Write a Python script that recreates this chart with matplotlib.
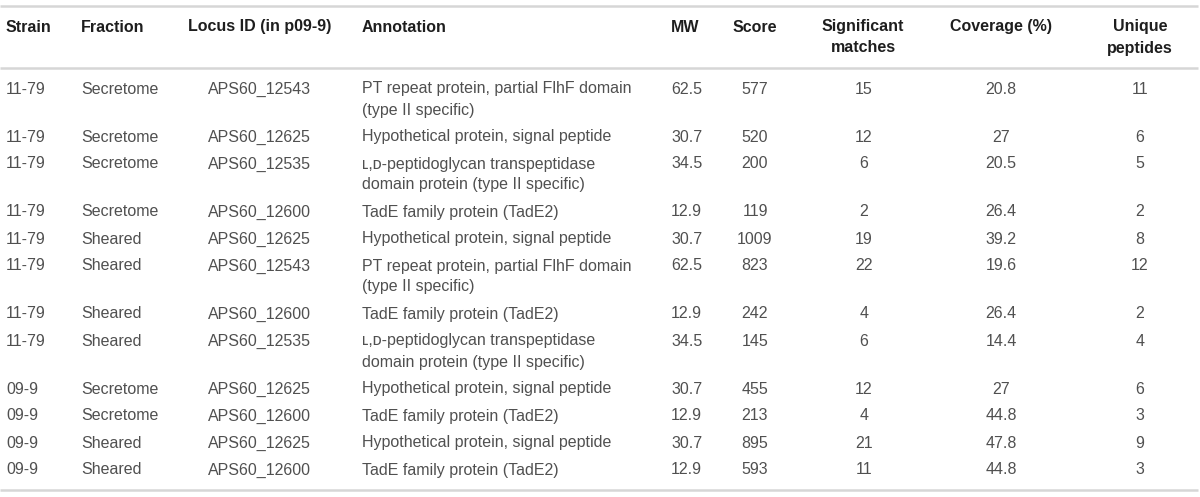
import matplotlib
matplotlib.use("Agg")
import matplotlib.pyplot as plt

strains = ["11-79"] * 8 + ["09-9"] * 4
fractions = ["Secretome"] * 4 + ["Sheared"] * 4 + ["Secretome"] * 2 + ["Sheared"] * 2
locus_ids = [
    "APS60_12543", "APS60_12625", "APS60_12535", "APS60_12600",
    "APS60_12625", "APS60_12543", "APS60_12600", "APS60_12535",
    "APS60_12625", "APS60_12600", "APS60_12625", "APS60_12600",
]
pt_repeat = "PT repeat protein, partial FlhF domain\n(type II specific)"
hypothetical = "Hypothetical protein, signal peptide"
ld_pept = "\u029f,\u1d05-peptidoglycan transpeptidase\ndomain protein (type II specific)"
tade = "TadE family protein (TadE2)"
annotations = [
    pt_repeat, hypothetical, ld_pept, tade,
    hypothetical, pt_repeat, tade, ld_pept,
    hypothetical, tade, hypothetical, tade,
]
mw = ["62.5", "30.7", "34.5", "12.9", "30.7", "62.5", "12.9", "34.5",
      "30.7", "12.9", "30.7", "12.9"]
score = ["577", "520", "200", "119", "1009", "823", "242", "145",
         "455", "213", "895", "593"]
sig_matches = ["15", "12", "6", "2", "19", "22", "4", "6", "12", "4", "21", "11"]
coverage = ["20.8", "27", "20.5", "26.4", "39.2", "19.6", "26.4", "14.4",
            "27", "44.8", "47.8", "44.8"]
unique_peptides = ["11", "6", "5", "2", "8", "12", "2", "4", "6", "3", "9", "3"]

headers = ["Strain", "Fraction", "Locus ID (in p09-9)", "Annotation", "MW",
           "Score", "Significant\nmatches", "Coverage (%)", "Unique\npeptides"]

# column layout: header x, value x, alignment
col_x_head = [6, 81, 188, 362, 671, 755, 863, 1001, 1140]
col_x_val = [6, 81, 208, 362, 671, 755, 864, 1001, 1140]
col_ha = ["left", "left", "left", "left", "left", "center", "center", "center", "center"]

family = ["Liberation Sans", "DejaVu Sans"]

fs = 11.5
line_gap = 21
row_gap = 27
text_col = "#505050"
rule_col = "#d6d6d6"

fig = plt.figure(figsize=(12, 4.97), dpi=100)
ax = fig.add_axes([0, 0, 1, 1])
ax.set_xlim(0, 1200)
ax.set_ylim(497, 0)
ax.axis("off")

# rules
for yy in (5.5, 68, 490):
    ax.plot([0, 1198], [yy, yy], color=rule_col, lw=1.8, solid_capstyle="butt")

# header
for x, h, ha in zip(col_x_head, headers, col_ha):
    for i, part in enumerate(h.split("\n")):
        ax.text(x, 26 + i * line_gap + 5.5, part, ha=ha, va="baseline",
                fontsize=fs, fontweight="bold", family=family, color="#1e1e1e")

# body rows
columns = [strains, fractions, locus_ids, annotations, mw, score,
           sig_matches, coverage, unique_peptides]
y = 88
for r in range(len(strains)):
    nlines = 1
    for c, col in enumerate(columns):
        parts = col[r].split("\n")
        nlines = max(nlines, len(parts))
        for i, part in enumerate(parts):
            ax.text(col_x_val[c], y + i * line_gap + 5.5, part, ha=col_ha[c],
                    va="baseline", fontsize=fs, family=family, color=text_col)
    y += row_gap + (nlines - 1) * line_gap

fig.savefig("out.png", dpi=100)
